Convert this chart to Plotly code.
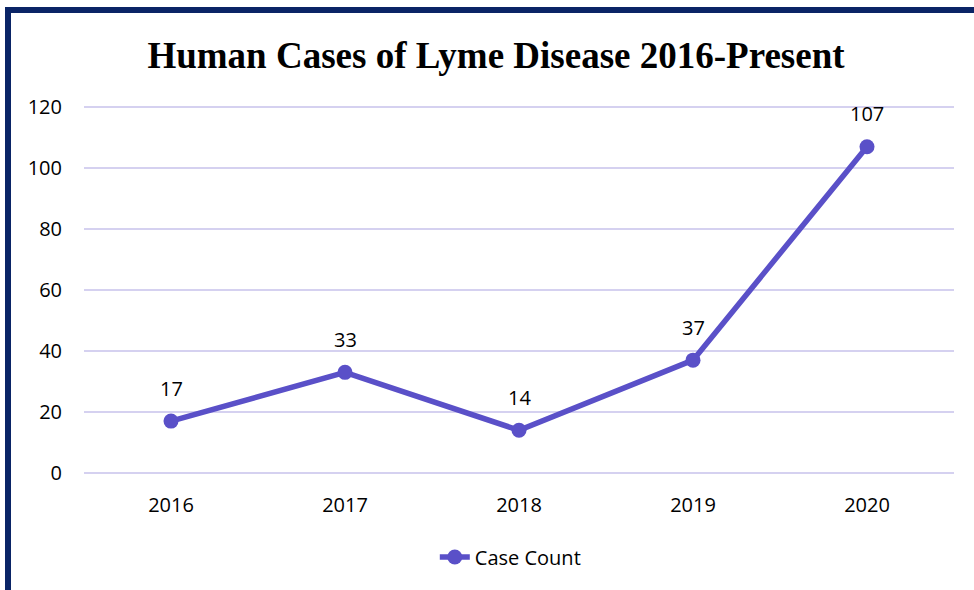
import plotly.graph_objects as go

years = ["2016", "2017", "2018", "2019", "2020"]
case_count = [17, 33, 14, 37, 107]
y_ticks = [0, 20, 40, 60, 80, 100, 120]

LINE = "#5a50c8"
GRID = "#d5d1f0"
NAVY = "#0a2466"

fig = go.Figure()
fig.add_trace(go.Scatter(
    x=years, y=case_count, mode="lines+markers", name="Case Count",
    line=dict(color=LINE, width=5.5),
    marker=dict(color=LINE, size=15),
))
for i, y in enumerate(case_count):
    fig.add_annotation(x=i, y=y, xref="x", yref="y", text=str(y), showarrow=False, yshift=33,
                       font=dict(family="Open Sans", size=20, color="#000000"))

# plot area in page pixels (y-range padded by 1 unit each side so edge gridlines show)
L, R, T, B = 84, 954, 104, 476
def px(xp): return (xp - L) / (R - L)
def py(yp): return (B - yp) / (B - T)
fig.add_shape(type="line", xref="paper", yref="paper", x0=px(5), x1=px(980), y0=py(10), y1=py(10),
              line=dict(color=NAVY, width=6))
fig.add_shape(type="line", xref="paper", yref="paper", x0=px(8), x1=px(8), y0=py(7), y1=py(600),
              line=dict(color=NAVY, width=6))

fig.update_layout(
    width=974, height=590,
    margin=dict(l=L, r=974 - R, t=T, b=590 - B),
    paper_bgcolor="white", plot_bgcolor="white",
    title=dict(text="<b>Human Cases of Lyme Disease 2016-Present</b>",
               x=(496 - L) / (R - L), xref="paper", xanchor="center", y=0.907, yanchor="middle",
               font=dict(family="Liberation Serif", size=37, color="#000000")),
    font=dict(family="Open Sans", size=20, color="#000000"),
    showlegend=True,
    legend=dict(orientation="h", x=0.49, xanchor="center", y=py(557), yanchor="middle",
                font=dict(size=20)),
    xaxis=dict(type="category", range=[-0.5, 4.5], showgrid=False, showline=False,
               zeroline=False, ticks="outside", ticklen=11, tickcolor="rgba(0,0,0,0)",
               tickfont=dict(size=20)),
    yaxis=dict(range=[-1, 121], tickvals=y_ticks, showgrid=True, gridcolor=GRID, gridwidth=2,
               zeroline=False, showline=False, ticks="outside", ticklen=17,
               tickcolor="rgba(0,0,0,0)", tickfont=dict(size=20)),
)

fig.write_html("out.html", config={"displayModeBar": False},
               post_script="document.body.style.margin='0';")
